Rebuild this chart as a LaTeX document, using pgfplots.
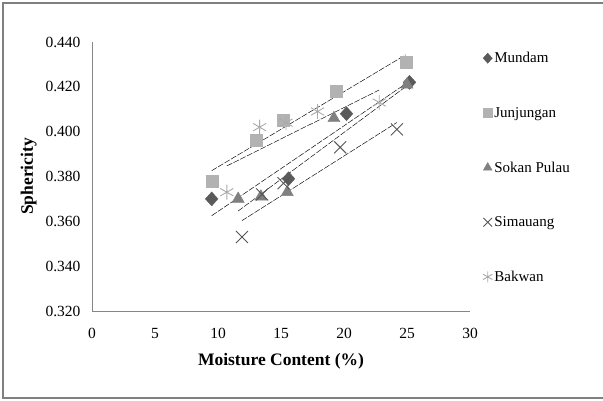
\documentclass[border=0pt]{standalone}
\usepackage{pgfplots}
\pgfplotsset{compat=1.18}
\usepackage{fontspec}
\setmainfont{Liberation Serif}
\definecolor{axgray}{RGB}{134,134,134}
\definecolor{frgray}{RGB}{128,128,128}
\definecolor{cMun}{RGB}{90,90,90}
\definecolor{cJun}{RGB}{178,178,178}
\definecolor{cSok}{RGB}{128,128,128}
\definecolor{cSim}{RGB}{85,85,85}
\definecolor{cBak}{RGB}{170,170,170}
\begin{document}
\begin{tikzpicture}[x=1pt,y=1pt]
\useasboundingbox (0,0) rectangle (603,401);
\draw[frgray, line width=1.5pt] (603,3) -- (3,3) -- (3,398) -- (603,398);
\begin{axis}[
  at={(92pt,90pt)}, anchor=south west,
  scale only axis, width=378pt, height=269pt,
  xmin=0, xmax=30, ymin=0.32, ymax=0.44,
  axis x line*=bottom, axis y line*=left,
  axis line style={axgray, line width=0.6pt, -},
  xtick={0,5,...,30}, ytick={0.32,0.34,...,0.44},
  major tick length=0pt,
  /pgf/number format/assume math mode=true,
  yticklabel style={/pgf/number format/fixed, /pgf/number format/fixed zerofill, /pgf/number format/precision=3, xshift=-8pt},
  tick label style={font=\fontsize{15.5}{17}\selectfont},
  xticklabel style={yshift=-14pt},
  xlabel={\textbf{Moisture Content (\%)}},
  ylabel={\textbf{Sphericity}},
  label style={font=\fontsize{17.5}{19}\selectfont},
  xlabel style={yshift=-8pt},
  ylabel style={yshift=2pt},
  clip=false,
  legend style={at={(1.034,0.970)}, anchor=north west, draw=none, fill=none,
    font=\fontsize{15}{17}\selectfont, row sep=39pt, inner sep=0pt,
    cells={anchor=west}},
  legend image code/.code={\draw[/tikz/every mark/.append style={scale=0.72}] plot coordinates {(0.3em,0pt)};},
  trend/.style={black, line width=0.45pt, dash pattern=on 6pt off 1.5pt, forget plot},
]
\addplot[only marks, mark=diamond*, mark size=7pt, color=cMun, mark options={fill=cMun, xscale=1.2}]
 coordinates {(9.5,0.370) (15.6,0.379) (20.2,0.408) (25.2,0.422)};
\addlegendentry{Mundam}
\addplot[only marks, mark=square*, mark size=6pt, color=cJun, mark options={fill=cJun}]
 coordinates {(9.5,0.378) (13.0,0.396) (15.2,0.405) (19.4,0.418) (24.9,0.431)};
\addlegendentry{Junjungan}
\addplot[only marks, mark=triangle*, mark size=7pt, color=cSok, mark options={fill=cSok}]
 coordinates {(11.6,0.370) (13.4,0.371) (15.5,0.373) (19.2,0.406) (25.0,0.421)};
\addlegendentry{Sokan Pulau}
\addplot[only marks, mark=x, mark size=8.5pt, color=cSim, mark options={line width=0.9pt}]
 coordinates {(11.9,0.353) (13.5,0.372) (15.2,0.377) (19.7,0.393) (24.2,0.401)};
\addlegendentry{Simauang}
\addplot[only marks, mark=asterisk, mark size=7.5pt, color=cBak, mark options={line width=0.9pt}]
 coordinates {(10.7,0.373) (13.3,0.402) (15.4,0.404) (17.9,0.409) (22.8,0.413)};
\addlegendentry{Bakwan}
\addplot[trend] coordinates {(9.5,0.3625) (25.2,0.4225)};
\addplot[trend] coordinates {(9.5,0.3826) (24.9,0.4343)};
\addplot[trend] coordinates {(11.6,0.3646) (25.0,0.4205)};
\addplot[trend] coordinates {(11.9,0.3603) (24.2,0.4041)};
\addplot[trend] coordinates {(10.7,0.3847) (22.8,0.4186)};
\end{axis}
\end{tikzpicture}
\end{document}
